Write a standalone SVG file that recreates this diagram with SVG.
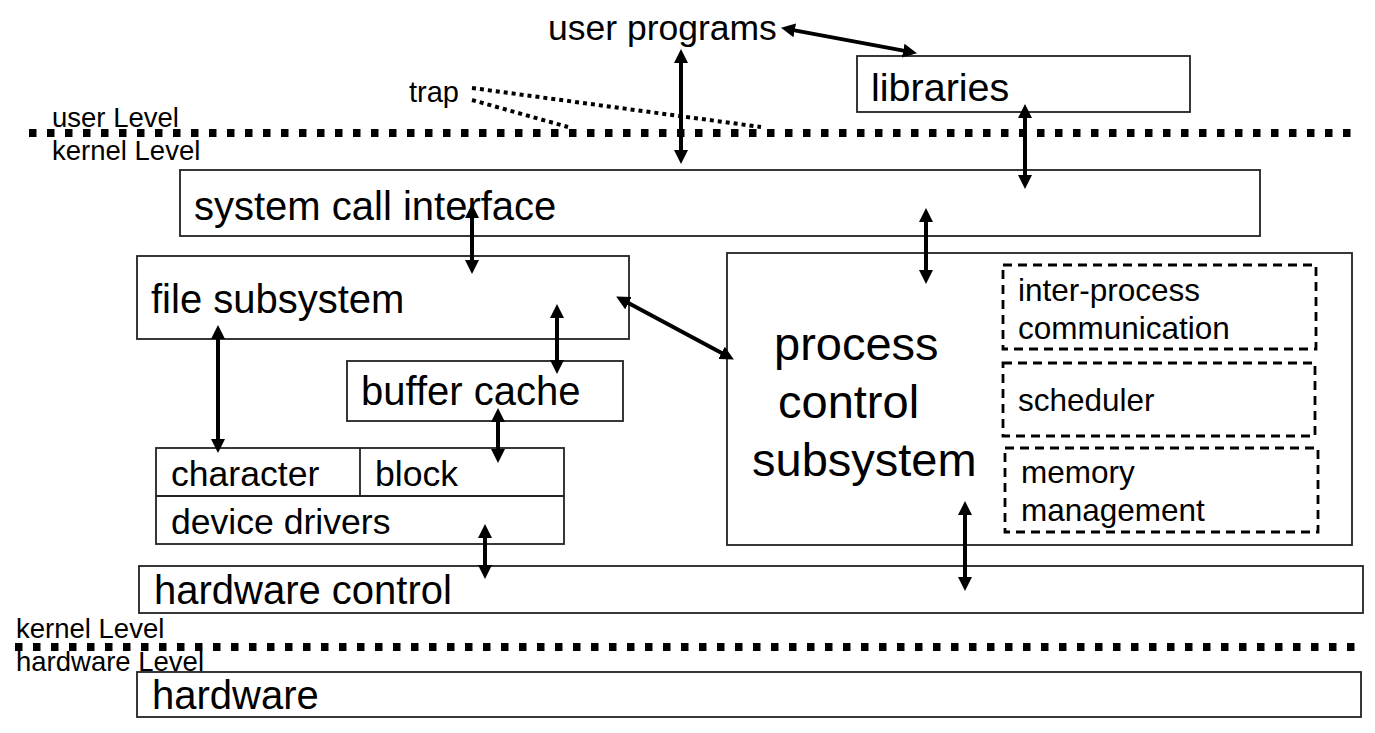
<svg xmlns="http://www.w3.org/2000/svg" width="1375" height="733" viewBox="0 0 1375 733">
<style>
text{font-family:"Liberation Sans",Arial,sans-serif;fill:#000}
.box{fill:#fff;stroke:#222;stroke-width:1.8}
.dash{fill:none;stroke:#000;stroke-width:2.8;stroke-dasharray:9 6}
.sep{fill:none;stroke:#000;stroke-width:8;stroke-dasharray:7.5 10.5}
.trapl{fill:none;stroke:#000;stroke-width:4;stroke-dasharray:4 4}
.arr{fill:none;stroke:#000;stroke-width:4;marker-start:url(#ah);marker-end:url(#ah)}
.big{font-size:40px}
.mid{font-size:35.6px}
.lvl{font-size:27.5px}
.sub{font-size:31.5px}
.pcs{font-size:47px}
</style>
<defs>
<marker id="ah" markerUnits="userSpaceOnUse" markerWidth="15" markerHeight="15" viewBox="0 0 15 15" refX="7" refY="7.5" orient="auto-start-reverse">
<path d="M0,0.5 L14,7.5 L0,14.5 Z" fill="#000"/>
</marker>
</defs>

<g id="separators">
<line class="sep" x1="29" y1="133" x2="1358" y2="133"/>
<line class="sep" x1="15" y1="647" x2="1358" y2="647"/>
<text class="lvl" x="52" y="127">user Level</text>
<text class="lvl" x="52" y="160">kernel Level</text>
<text class="lvl" x="16" y="638">kernel Level</text>
<text class="lvl" x="16" y="671">hardware Level</text>
</g>

<g id="user-programs">
<text x="548" y="40" style="font-size:35.5px">user programs</text>
</g>

<g id="trap">
<text x="409" y="102" style="font-size:29px">trap</text>
</g>

<g id="libraries">
<rect class="box" x="857" y="56" width="333" height="56"/>
<text class="big" x="871" y="101" style="font-size:39.5px">libraries</text>
</g>

<g id="system-call-interface">
<rect class="box" x="180" y="170" width="1080" height="66"/>
<text class="big" x="194" y="220">system call interface</text>
</g>

<g id="file-subsystem">
<rect class="box" x="137" y="256" width="492" height="83"/>
<text class="big" x="151" y="313">file subsystem</text>
</g>

<g id="buffer-cache">
<rect class="box" x="347" y="361" width="276" height="60"/>
<text class="big" x="361" y="405">buffer cache</text>
</g>

<g id="device-drivers">
<rect class="box" x="156" y="448" width="408" height="96"/>
<line x1="156" y1="496" x2="564" y2="496" stroke="#222" stroke-width="1.8"/>
<line x1="360" y1="448" x2="360" y2="496" stroke="#222" stroke-width="1.8"/>
<text class="mid" x="171" y="486">character</text>
<text class="mid" x="375" y="486">block</text>
<text class="mid" x="171" y="534">device drivers</text>
</g>

<g id="process-control-subsystem">
<rect class="box" x="727" y="253" width="625" height="292"/>
<text class="pcs" x="774" y="360">process</text>
<text class="pcs" x="778" y="418">control</text>
<text class="pcs" x="752" y="476">subsystem</text>
</g>

<g id="inter-process-communication">
<rect class="dash" x="1003" y="265" width="313" height="84"/>
<text class="sub" x="1018" y="301">inter-process</text>
<text class="sub" x="1018" y="339">communication</text>
</g>

<g id="scheduler">
<rect class="dash" x="1003" y="363" width="312" height="73"/>
<text class="sub" x="1018" y="411">scheduler</text>
</g>

<g id="memory-management">
<rect class="dash" x="1005" y="448" width="313" height="84"/>
<text class="sub" x="1021" y="483">memory</text>
<text class="sub" x="1021" y="521">management</text>
</g>

<g id="hardware-control">
<rect class="box" x="139" y="566" width="1224" height="47"/>
<text class="big" x="154" y="604">hardware control</text>
</g>

<g id="hardware">
<rect class="box" x="137" y="672" width="1224" height="45"/>
<text class="big" x="152" y="709">hardware</text>
</g>

<g id="connectors">
<line class="trapl" x1="472" y1="88" x2="761" y2="127"/>
<line class="trapl" x1="472" y1="100" x2="568" y2="127"/>
<line class="arr" x1="787.9" y1="29.1" x2="910.1" y2="51.9"/>
<line class="arr" x1="681" y1="56" x2="681" y2="157"/>
<line class="arr" x1="1025" y1="111" x2="1025" y2="182"/>
<line class="arr" x1="472" y1="211" x2="472" y2="267"/>
<line class="arr" x1="926" y1="215" x2="926" y2="277"/>
<line class="arr" x1="557" y1="311" x2="557" y2="367"/>
<line class="arr" x1="218" y1="332" x2="218" y2="446"/>
<line class="arr" x1="622.3" y1="299.8" x2="727.7" y2="356.2"/>
<line class="arr" x1="498" y1="415" x2="498" y2="456"/>
<line class="arr" x1="485" y1="531" x2="485" y2="572"/>
<line class="arr" x1="965" y1="508" x2="965" y2="584"/>
</g>
</svg>
